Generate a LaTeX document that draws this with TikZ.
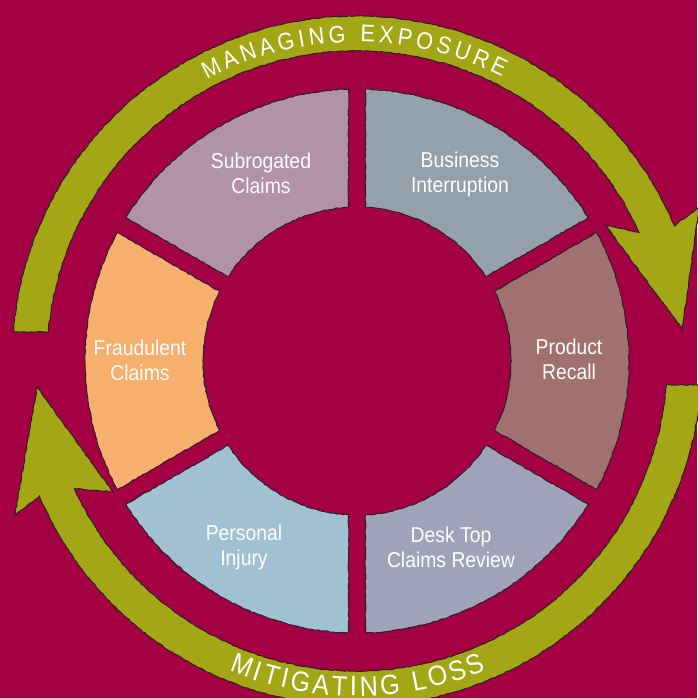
\documentclass[tikz,border=0pt]{standalone}
\usepackage{fontspec}
\setmainfont{Liberation Sans}[FakeStretch=0.9]
\usetikzlibrary{decorations.pathmorphing}
\definecolor{bg}{RGB}{166,0,68}
\definecolor{olive}{RGB}{163,166,21}
\definecolor{edgecol}{RGB}{40,34,40}
\definecolor{cSub}{RGB}{178,146,166}
\definecolor{cBus}{RGB}{148,161,170}
\definecolor{cPro}{RGB}{161,113,111}
\definecolor{cDes}{RGB}{158,163,185}
\definecolor{cPer}{RGB}{161,193,210}
\definecolor{cFra}{RGB}{246,175,108}
\tikzset{
  rough/.style={draw=edgecol, line width=1pt, decorate,
    decoration={random steps, segment length=3pt, amplitude=0.5pt}},
  band/.style={fill=olive, rough},
  segshape/.style={rough},
  lbl/.style={text=white, font=\fontsize{21.5}{25}\selectfont, align=center, inner sep=0pt},
  uptxt/.style={text=white, font=\fontsize{24}{24}\selectfont, anchor=base, inner sep=0pt},
  lowtxt/.style={text=white, font=\fontsize{28}{28}\selectfont, anchor=base, inner sep=0pt},
}
\begin{document}
\begin{tikzpicture}[x=1pt,y=1pt]
\useasboundingbox (-357pt,-337pt) rectangle (340pt,361pt);
\fill[bg] (-357pt,-337pt) rectangle (340pt,361pt);
% arrows
\path[band] (175.2:345pt) arc[start angle=175.2, end angle=23.1, radius=345pt]
  -- (24.2:375pt) -- (5.6:327pt) -- (28.7:283pt) -- (24.5:310pt)
  arc[start angle=24.5, end angle=174.6, radius=310pt] -- cycle;
\path[band] (-4.0:345pt) arc[start angle=-4.0, end angle=-156.9, radius=345pt]
  -- (204.2:375pt) -- (184.6:321pt) -- (208.2:277pt) -- (204.3:310pt)
  arc[start angle=-155.7, end angle=-4.4, radius=310pt] -- cycle;
% segments
\foreach \a/\c in {30/cBus, 90/cSub, 150/cFra, 210/cPer, 270/cDes, 330/cPro} {
  \path[segshape, fill=\c] ({\a+3.16}:154pt) -- ({\a+1.79}:272pt)
    arc[start angle={\a+1.79}, end angle={\a+60-1.79}, radius=272pt]
    -- ({\a+60-3.16}:154pt)
    arc[start angle={\a+60-3.16}, end angle={\a+3.16}, radius=154pt] -- cycle;
}
% labels
\node[lbl] (sub) at (-96pt,188pt) {Subrogated\\Claims};
\node[lbl] (bus) at (103pt,187pt) {Business\\Interruption};
\node[lbl] (pro) at (212pt,2pt) {Product\\Recall};
\node[lbl] (fra) at (-217pt,1pt) {Fraudulent\\Claims};
\node[lbl] (per) at (-113pt,-186pt) {Personal\\Injury};
\node[lbl] (des) at (94pt,-186pt) {Desk Top\\Claims Review};
% curved texts
\foreach \ch/\ang [count=\i] in {M/116.47, A/112.87, N/109.48, A/106.08, G/102.58, I/99.79, N/97.1, G/93.5,
  E/88.12, X/84.83, P/81.53, O/78.03, S/74.53, U/71.13, R/67.64, E/64.25}
  \node[uptxt, rotate=\ang-90] (u\i) at (\ang:319pt) {\ch};
\foreach \ch/\ang [count=\i] in {M/-110.61, I/-107.69, T/-105.22, I/-102.75, G/-99.95, A/-96.34, T/-93.08,
  I/-90.62, N/-87.92, G/-84.2, L/-79.04, O/-75.67, S/-72.06, S/-68.68}
  \node[lowtxt, rotate=\ang+90] (l\i) at (\ang:335pt) {\ch};
\end{tikzpicture}
\end{document}
